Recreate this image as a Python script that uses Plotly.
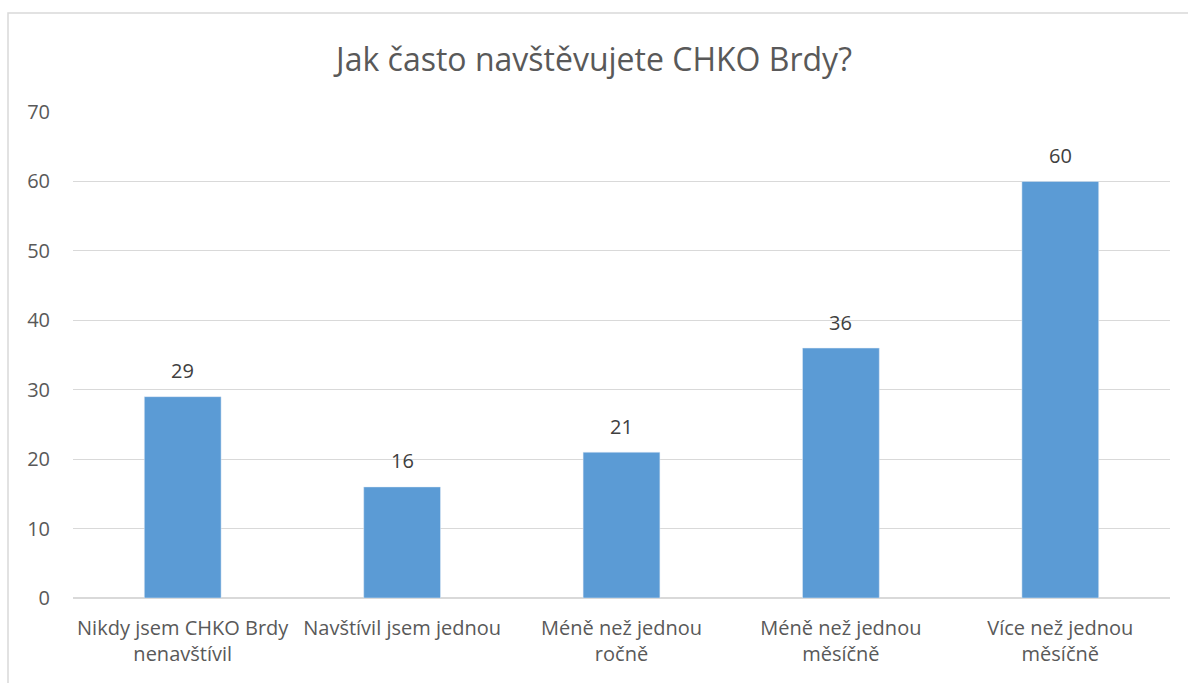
import plotly.graph_objects as go

categories = [
    "Nikdy jsem CHKO Brdy<br>nenavštívil",
    "Navštívil jsem jednou",
    "Méně než jednou<br>ročně",
    "Méně než jednou<br>měsíčně",
    "Více než jednou<br>měsíčně",
]
values = [29, 16, 21, 36, 60]
y_ticks = [0, 10, 20, 30, 40, 50, 60, 70]

FONT = "Open Sans, Noto Sans, sans-serif"

fig = go.Figure()

fig.add_trace(
    go.Bar(
        x=categories,
        y=values,
        marker_color="#5b9bd5",
        width=0.35,
    )
)

# value labels above bars
for cat, val in zip(categories, values):
    fig.add_annotation(
        x=cat,
        y=val,
        text=str(val),
        showarrow=False,
        yanchor="middle",
        yshift=26,
        font=dict(size=20, color="#404040", family=FONT),
    )

fig.update_layout(
    title=dict(
        text="Jak často navštěvujete CHKO Brdy?",
        x=0.5,
        xanchor="center",
        y=1 - 60 / 683,
        yanchor="middle",
        font=dict(size=32, color="#595959", family=FONT),
    ),
    width=1188,
    height=683,
    margin=dict(l=73, r=18, t=112, b=85),
    plot_bgcolor="white",
    paper_bgcolor="white",
    showlegend=False,
    font=dict(family=FONT, color="#595959"),
)

fig.update_yaxes(
    range=[0, 70],
    tickvals=y_ticks,
    showgrid=True,
    gridcolor="#d9d9d9",
    gridwidth=1,
    zeroline=True,
    zerolinecolor="#d9d9d9",
    zerolinewidth=1.5,
    showline=False,
    tickfont=dict(size=20, color="#595959"),
    ticklabelstandoff=22,
)

fig.update_xaxes(
    showgrid=False,
    showline=False,
    tickfont=dict(size=20, color="#595959"),
    ticklabelstandoff=16,
)

# chart border
fig.add_shape(
    type="rect",
    xref="paper",
    yref="paper",
    x0=(8 - 73) / 1097,
    x1=(1195 - 73) / 1097,
    y0=(598 - 690) / 486,
    y1=(598 - 13) / 486,
    line=dict(color="#d9d9d9", width=1.5),
    fillcolor="rgba(0,0,0,0)",
    layer="below",
)

fig.write_html(
    "out.html",
    config={"displayModeBar": False},
    post_script="document.body.style.margin='0';",
)
